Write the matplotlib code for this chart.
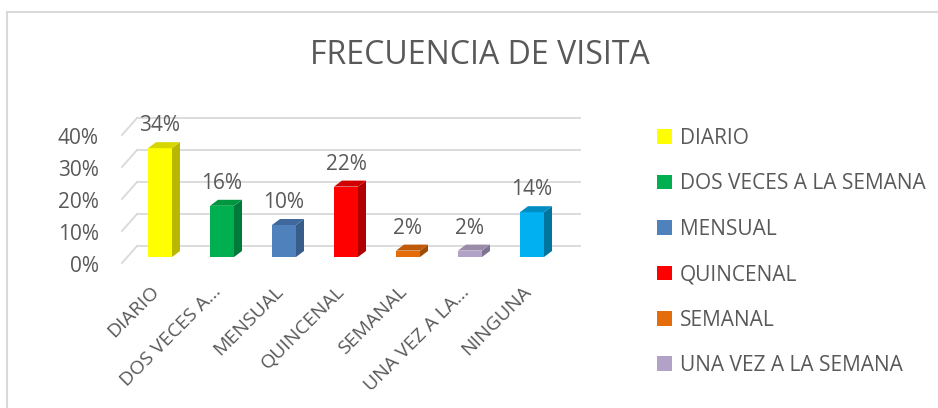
import numpy as np
import matplotlib
matplotlib.use('Agg')
import matplotlib.pyplot as plt
from matplotlib.transforms import offset_copy
from matplotlib.patches import Polygon, Rectangle

plt.rcParams['font.family'] = ['Open Sans', 'DejaVu Sans']

# data
categories = ['DIARIO', 'DOS VECES A LA SEMANA', 'MENSUAL', 'QUINCENAL',
              'SEMANAL', 'UNA VEZ A LA SEMANA', 'NINGUNA']
tick_labels = ['DIARIO', 'DOS VECES A...', 'MENSUAL', 'QUINCENAL',
               'SEMANAL', 'UNA VEZ A LA...', 'NINGUNA']
values = [0.34, 0.16, 0.10, 0.22, 0.02, 0.02, 0.14]
front_colors = ['#FFFF00', '#00B050', '#4F81BD', '#FF0000', '#E46C0A', '#B3A2C7', '#00B0F0']
side_colors = ['#B8B800', '#00793A', '#385D8A', '#B00000', '#A04C07', '#7E7290', '#00769F']
top_colors = ['#D6D600', '#00953F', '#41689C', '#D00000', '#BF5A08', '#9A8BAB', '#008DC2']
yticks = [0, 0.1, 0.2, 0.3, 0.4]

W, H = 938, 408
txt = '#595959'
fig = plt.figure(figsize=(W / 100, H / 100), dpi=100)

# chart frame (only top/left visible in the reference)
fig.patches.append(Rectangle((7 / W, -0.1), 1.2, (H - 12) / H + 0.1, transform=fig.transFigure,
                             fill=False, ec='#D9D9D9', lw=1.5))
fig.text(480 / W, (H - 56) / H, 'FRECUENCIA DE VISITA', ha='center', va='center',
         fontsize=23, color=txt)

ax = fig.add_axes([129 / W, (H - 257) / H, (563 - 129) / W, (257 - 129) / H])
ax.set_xlim(-0.5, 6.5)
ax.set_ylim(0, 0.4)
ax.set_axis_off()
px_x = 434 / 7.0
px_y = 128 / 0.4
dx, dy = 8 / px_x, 6 / px_y
gx, gy = 8 / px_x, 11 / px_y

# 3d-like gridlines: diagonal floor line + back wall line, with the value labels
ylab_tr = offset_copy(ax.transData, fig=fig, x=-30, y=-9, units='dots')
for v in yticks:
    ax.plot([-0.5 - 7 / px_x, -0.5 + gx], [v - 6 / px_y, v + gy], color='#D9D9D9',
            lw=1.3, clip_on=False, zorder=1)
    ax.plot([-0.5 + gx, 6.5 + 17 / px_x], [v + gy, v + gy], color='#D9D9D9',
            lw=1.3, clip_on=False, zorder=1)
    ax.text(-0.5, v, '%d%%' % round(v * 100), transform=ylab_tr, ha='right',
            va='center', fontsize=15, color=txt)

x = np.arange(len(values))
w = 24 / px_x
handles = []
xlab_tr = offset_copy(ax.transData, fig=fig, x=-4, y=-32, units='dots')
for i, v in enumerate(values):
    b = ax.bar(x[i], v, width=w, color=front_colors[i], label=categories[i], zorder=3)
    handles.append(b)
    r = x[i] + w / 2
    l = x[i] - w / 2
    ax.add_patch(Polygon([(r, 0), (r + dx, dy), (r + dx, v + dy), (r, v)],
                         closed=True, fc=side_colors[i], ec='none', zorder=3, clip_on=False))
    ax.add_patch(Polygon([(l, v), (l + dx, v + dy), (r + dx, v + dy), (r, v)],
                         closed=True, fc=top_colors[i], ec='none', zorder=3, clip_on=False))
    ax.annotate('%d%%' % round(v * 100), (x[i], v + dy), xytext=(0, 6),
                textcoords='offset pixels', ha='center', va='bottom',
                fontsize=15, color=txt)
    ax.text(x[i], 0, tick_labels[i], transform=xlab_tr, rotation=45,
            rotation_mode='anchor', ha='right', va='center', fontsize=14, color=txt)

fig.legend(handles[:6], categories[:6], loc='upper left', frameon=False,
           bbox_to_anchor=(657 / W, (H - 128) / H), borderaxespad=0, borderpad=0,
           fontsize=15, labelcolor=txt, handlelength=0.7, handleheight=0.7,
           handletextpad=0.4, labelspacing=1.17)

fig.savefig('out.png', dpi=100)
